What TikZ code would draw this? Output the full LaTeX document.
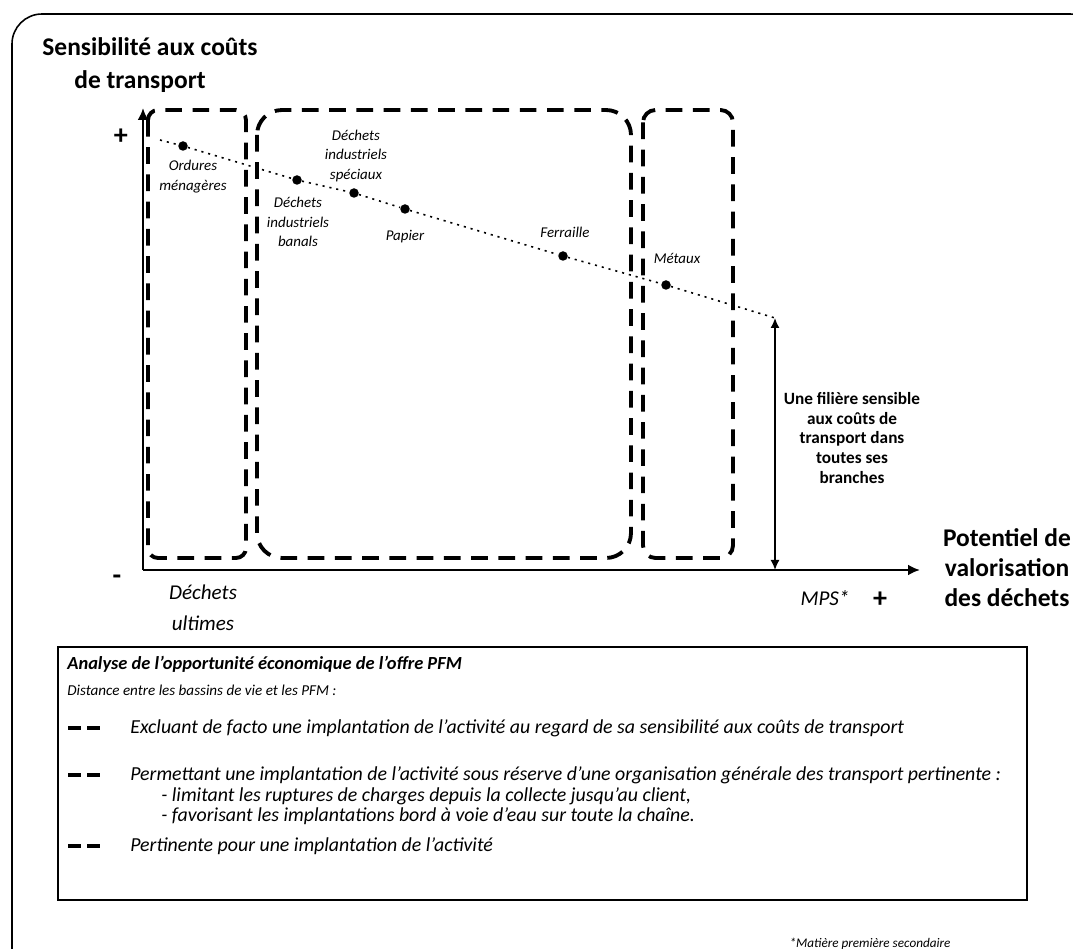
\documentclass[tikz,border=0pt]{standalone}
\usepackage{fontspec}
\setmainfont{Carlito}
\usepackage{tikz}
\usetikzlibrary{
  arrows.meta,
  positioning,
  calc
}
\tikzset{
  pfframe/.style={draw, line width=0.9pt, rounded corners=0.6cm},
  pfbox/.style={draw, line width=0.9pt},
  pfzone/.style={draw, line width=2.2pt, dash pattern=on 9.5pt off 6pt},
  pfaxis/.style={line width=1.7pt, -{Latex[length=2.4mm, width=2.2mm]}},
  pftrend/.style={line width=0.9pt, dash pattern=on 1.2pt off 2.8pt},
  pfdot/.style={circle, fill, inner sep=0pt, minimum size=1.9mm},
  pfarrow/.style={line width=0.9pt, {Latex[length=2mm, width=1.8mm]}-{Latex[length=2mm, width=1.8mm]}},
  pfkey/.style={line width=2.8pt},
  pftitle/.style={font=\fontsize{14.5}{17}\selectfont\bfseries, align=center, inner sep=0pt},
  pflabel/.style={font=\fontsize{8.5}{11.3}\selectfont\itshape, align=center, inner sep=0pt},
  pfaxlab/.style={font=\fontsize{12}{17.5}\selectfont\itshape, align=center, inner sep=0pt},
  pfnote/.style={font=\fontsize{9.8}{11.3}\selectfont\bfseries, align=center, inner sep=0pt},
  pfsign/.style={font=\fontsize{16}{16}\selectfont\bfseries, inner sep=0pt},
  pflegend/.style={font=\fontsize{11.3}{12}\selectfont\itshape, anchor=west, inner sep=0pt},
  pffoot/.style={font=\fontsize{7.5}{8}\selectfont\itshape, inner sep=0pt}
}
\begin{document}
\begin{tikzpicture}[x=0.02cm, y=-0.02cm]
  \useasboundingbox (0,0) rectangle (1073,949);
  \clip (0,0) rectangle (1073,949);
  \draw[pfframe] (12,14) rectangle (1100,985);

  \node[pftitle] (ytitle) at (150,47) {Sensibilité aux coûts};
  \node[pftitle] (ytitleb) at (140,82) {de transport};

  \coordinate (origin) at (143,570);
  \coordinate (ytip) at (143,108);
  \coordinate (xtip) at (920,570);

  \draw[pfzone, rounded corners=0.2cm] (148,110) rectangle (246,558);
  \draw[pfzone, rounded corners=0.5cm] (257,110) rectangle (631,558);
  \draw[pfzone, rounded corners=0.25cm] (643,110) rectangle (733,558);

  \draw[pfaxis] (origin) -- (ytip);
  \draw[pfaxis] (origin) -- (xtip);
  \node[pfsign] (yplus) at (121,137) {+};
  \node[pfsign] (yminus) at (117,580) {-};
  \node[pfsign] (xplus) at (880,600) {+};
  \node[pfaxlab] (mps) at (825,598) {MPS*};
  \node[pfaxlab] (ultimes) at (203,608) {Déchets\\ultimes};
  \node[pftitle] (xtitle) at (1007,568) {Potentiel de\\valorisation\\des déchets};

  \coordinate (tstart) at (160,140);
  \node[pfdot] (om) at (183,146) {};
  \node[pfdot] (dib) at (297,180) {};
  \node[pfdot] (dis) at (354,193) {};
  \node[pfdot] (pap) at (405,209) {};
  \node[pfdot] (fer) at (563,256) {};
  \node[pfdot] (met) at (666,285) {};
  \coordinate (tend) at (775,318);
  \draw[pftrend] (tstart) -- (om) -- (dib) -- (dis) -- (pap) -- (fer) -- (met) -- (tend);

  \node[pflabel] (omlab) at (193,177) {Ordures\\ménagères};
  \node[pflabel] (diblab) at (298,222) {Déchets\\industriels\\banals};
  \node[pflabel] (dislab) at (356,156) {Déchets\\industriels\\spéciaux};
  \node[pflabel] (paplab) at (405,237) {Papier};
  \node[pflabel] (ferlab) at (565,232) {Ferraille};
  \node[pflabel] (metlab) at (677,258) {Métaux};

  \draw[pfarrow] (tend) -- (tend |- origin);
  \node[pfnote] (note) at (852,438) {Une filière sensible\\aux coûts de\\transport dans\\toutes ses\\branches};

  \draw[pfbox] (58,647) rectangle (1027,900);
  \node[pflegend, font=\fontsize{10.5}{13}\selectfont\bfseries\itshape] (lgtitle) at (67,664) {Analyse de l’opportunité économique de l’offre PFM};
  \node[pflegend, font=\fontsize{8.6}{10}\selectfont\itshape] (lgdist) at (67,690) {Distance entre les bassins de vie et les PFM :};
  \foreach \y/\key in {728/ka, 775/kb, 846/kc} {
    \coordinate (\key) at (68,\y);
    \draw[pfkey] (\key) -- ++(13,0) ++(6,0) -- ++(13,0);
  }
  \node[pflegend] (lga) at (130,728) {Excluant de facto une implantation de l’activité au regard de sa sensibilité aux coûts de transport};
  \node[pflegend] (lgb) at (130,775) {Permettant une implantation de l’activité sous réserve d’une organisation générale des transport pertinente :};
  \node[pflegend] (lgb1) at (161,796) {- limitant les ruptures de charges depuis la collecte jusqu’au client,};
  \node[pflegend] (lgb2) at (161,816) {- favorisant les implantations bord à voie d’eau sur toute la chaîne.};
  \node[pflegend] (lgc) at (130,846) {Pertinente pour une implantation de l’activité};

  \node[pffoot] (foot) at (870,944) {*Matière première secondaire};
\end{tikzpicture}
\end{document}
